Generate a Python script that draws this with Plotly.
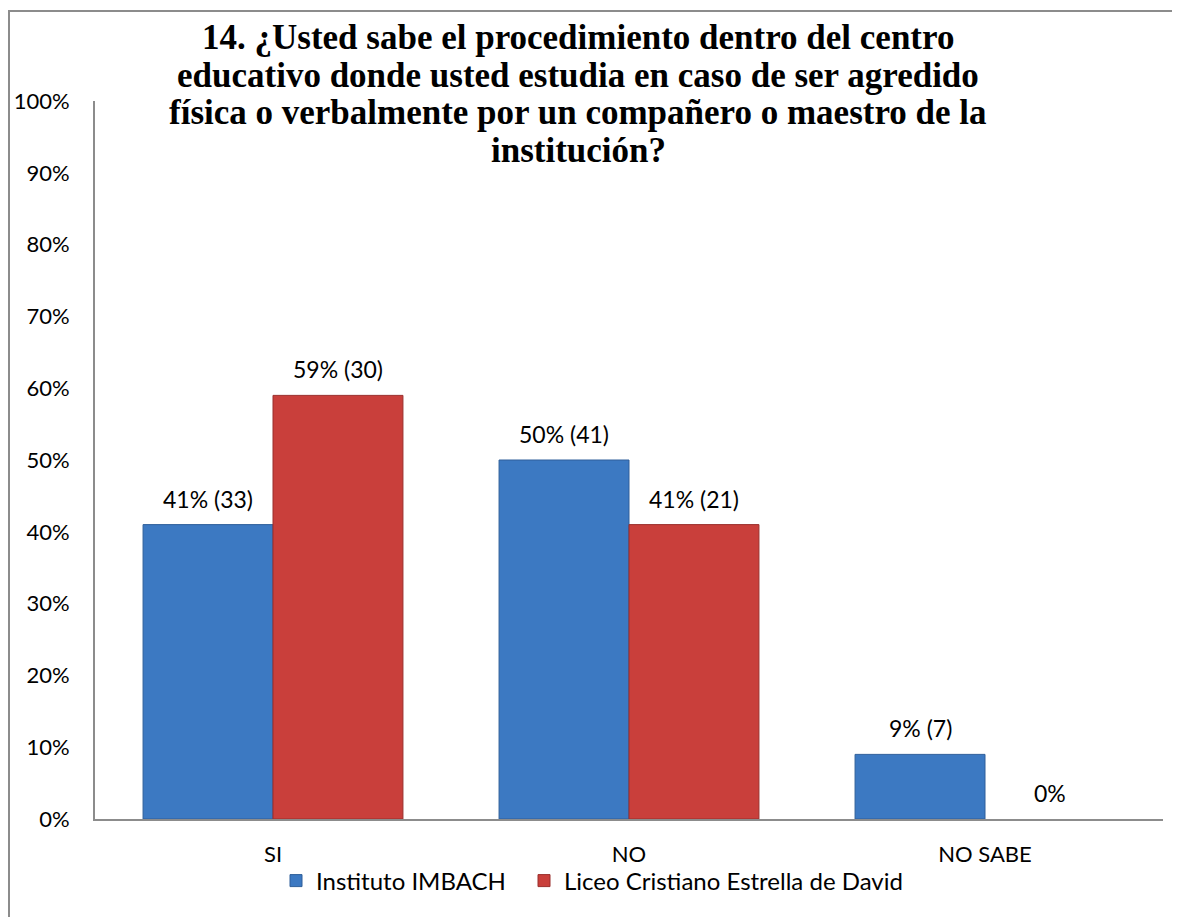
import plotly.graph_objects as go

categories = ["SI", "NO", "NO SABE"]
series_names = ["Instituto IMBACH", "Liceo Cristiano Estrella de David"]
imbach_pct = [0.41, 0.50, 0.09]
imbach_n = [33, 41, 7]
liceo_pct = [0.59, 0.41, 0.0]
liceo_n = [30, 21, None]
title_lines = [
    "14. ¿Usted sabe el procedimiento dentro del centro",
    "educativo donde usted estudia en caso de ser agredido",
    "física o verbalmente por un compañero o maestro de la",
    "institución?",
]

OFF = 8  # default page margin of the html body
W, H = 1180 - OFF, 917 - OFF
L, T = 95 - OFF, 101 - OFF
R = W - (1163 - OFF)
B = H - (819 - OFF)
pw, ph = W - L - R, H - T - B

def px_x(x):  # page pixel -> paper
    return (x - OFF - L) / pw

def px_y(y):
    return (H - B - (y - OFF)) / ph

blue = "#3C79C2"
red = "#C93F3B"

fig = go.Figure()
fig.add_trace(go.Bar(x=categories, y=imbach_pct, name=series_names[0], legend="legend",
                     marker=dict(color=blue, line=dict(color="#2F5F9A",
                                                       width=[1 if v > 0 else 0 for v in imbach_pct]))))
fig.add_trace(go.Bar(x=categories, y=liceo_pct, name=series_names[1], legend="legend2",
                     marker=dict(color=red, line=dict(color="#9A2F2C",
                                                      width=[1 if v > 0 else 0 for v in liceo_pct]))))

def label(p, n):
    s = f"{round(p*100)}%"
    if n is not None:
        s += f" ({n})"
    return s

annotations = []
for i, c in enumerate(categories):
    for pct, n, shift in ((imbach_pct, imbach_n, -65), (liceo_pct, liceo_n, 65)):
        annotations.append(dict(x=c, y=pct[i], xref="x", yref="y", text=label(pct[i], n[i]),
                                showarrow=False, xshift=shift, yshift=26, yanchor="middle",
                                font=dict(family="Lato", size=23, color="#000000")))

title_y = [37, 75, 113, 151]
for t, yy in zip(title_lines, title_y):
    annotations.append(dict(x=px_x(578), y=px_y(yy), xref="paper", yref="paper", text=f"<b>{t}</b>",
                            showarrow=False, xanchor="center", yanchor="middle",
                            font=dict(family="Liberation Serif", size=35, color="#000000")))

legend_style = dict(orientation="h", xanchor="left", yanchor="middle", y=px_y(881),
                    font=dict(family="Lato", size=24, color="#000000"),
                    bgcolor="rgba(0,0,0,0)")

fig.update_layout(
    width=W, height=H,
    margin=dict(l=L, r=R, t=T, b=B, autoexpand=False),
    paper_bgcolor="white", plot_bgcolor="white",
    barmode="group", bargap=0.27, bargroupgap=0,
    showlegend=True,
    legend=dict(x=px_x(276), **legend_style),
    legend2=dict(x=px_x(524), **legend_style),
    annotations=annotations,
    shapes=[dict(type="rect", xref="paper", yref="paper", x0=px_x(9), x1=px_x(1200),
                 y0=px_y(940), y1=px_y(11), line=dict(color="#8C8C8C", width=2), layer="below")],
)
fig.update_xaxes(showline=True, linecolor="#8C8C8C", linewidth=2, showgrid=False, ticks="",
                 automargin=False,
                 tickfont=dict(family="Lato", size=22, color="#000000"), ticklabelstandoff=15)
fig.update_yaxes(range=[0, 1], dtick=0.1, tickformat=".0%", showline=True, linecolor="#8C8C8C",
                 linewidth=2, showgrid=False, zeroline=False, ticks="", automargin=False,
                 tickfont=dict(family="Lato", size=22, color="#000000"), ticklabelstandoff=19)

fig.write_html("out.html")
